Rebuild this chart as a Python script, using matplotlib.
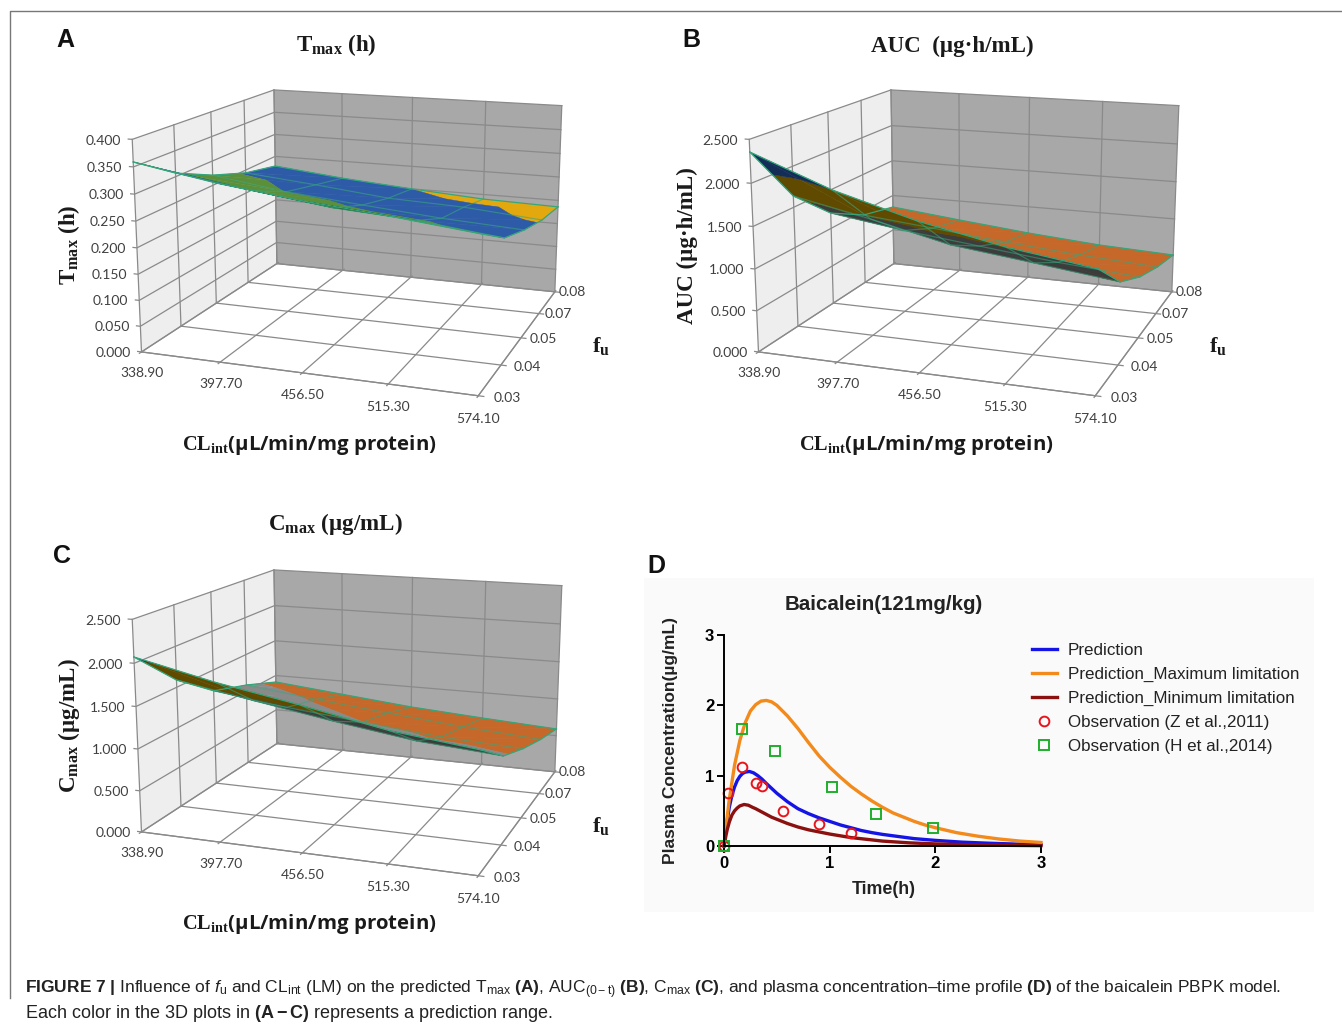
import numpy as np
import matplotlib
matplotlib.use("Agg")
import matplotlib.pyplot as plt
from matplotlib.patches import Rectangle
from matplotlib.lines import Line2D
from mpl_toolkits.mplot3d import proj3d
from mpl_toolkits.mplot3d.art3d import Poly3DCollection

W, H = 1342, 1025

plt.rcParams['font.family'] = ['Liberation Sans', 'DejaVu Sans']
plt.rcParams['mathtext.fontset'] = 'custom'
plt.rcParams['mathtext.rm'] = 'Liberation Serif:bold'
plt.rcParams['mathtext.sf'] = 'Liberation Sans'
plt.rcParams['mathtext.bf'] = 'Liberation Sans:bold'
plt.rcParams['mathtext.it'] = 'Liberation Sans:italic'
plt.rcParams['mathtext.cal'] = 'Open Sans:bold'

cl_labels = ['338.90', '397.70', '456.50', '515.30', '574.10']
fu_labels = ['0.03', '0.04', '0.05', '0.07', '0.08']

tmax_ticks = ['0.000', '0.050', '0.100', '0.150', '0.200', '0.250', '0.300', '0.350', '0.400']
conc_ticks = ['0.000', '0.500', '1.000', '1.500', '2.000', '2.500']

# rows are fu 0.03 -> 0.08, columns are CLint 338.9 -> 574.1
tmax_grid = [[.359, .333, .314, .300, .283],
             [.307, .285, .265, .255, .237],
             [.271, .249, .235, .222, .213],
             [.244, .230, .214, .208, .195],
             [.228, .212, .200, .190, .186]]
auc_grid = [[2.357, 2.000, 1.735, 1.538, 1.396],
            [1.638, 1.440, 1.216, 1.098, .976],
            [1.200, 1.060, .950, .840, .758],
            [.946, .850, .753, .673, .612],
            [.833, .729, .631, .553, .508]]
cmax_grid = [[2.072, 1.860, 1.690, 1.500, 1.385],
             [1.589, 1.420, 1.260, 1.120, 1.045],
             [1.230, 1.100, 1.002, .907, .860],
             [1.084, .970, .874, .780, .710],
             [.906, .810, .716, .650, .591]]

# excel surface band colours: seen from above, seen from below
band_top = ['#5b9bd5', '#c5682a', '#8a8a8a', '#e3a80d', '#2d5ba8', '#5b8f3a', '#255e91', '#9e480e']
band_under = ['#2c4d6a', '#7a3a10', '#3c3c3c', '#5f4a00', '#132d57', '#1f4f22', '#123048', '#4f2407']

t_pred = [0, .01, .02, .03, .05, .075, .1, .125, .15, .175, .2, .24, .28, .32, .36, .4, .45, .5, .55, .6, .7, .8, .9,
          1, 1.1, 1.2, 1.3, 1.4, 1.5, 1.6, 1.8, 2, 2.25, 2.5, 2.75, 3]
pred = [0, .12, .25, .36, .55, .72, .84, .93, .99, 1.03, 1.05, 1.06, 1.04, 1.0, .95, .89, .82, .75, .69, .63, .53, .46, .40,
        .35, .30, .26, .22, .19, .165, .145, .105, .08, .055, .04, .028, .02]
t_max = [0, .02, .05, .1, .15, .2, .25, .3, .35, .4, .45, .5, .6, .7, .8, .9, 1, 1.1, 1.2, 1.3, 1.4, 1.5, 1.6, 1.7, 1.8,
         1.9, 2, 2.2, 2.4, 2.6, 2.8, 3]
pred_max = [0, .285, .66, 1.15, 1.5, 1.75, 1.92, 2.01, 2.06, 2.07, 2.05, 2.0, 1.85, 1.67, 1.47, 1.28, 1.12, .98, .85, .74,
            .64, .55, .47, .41, .35, .30, .26, .19, .14, .10, .07, .05]
t_min = [0, .01, .02, .03, .05, .075, .1, .125, .15, .19, .23, .27, .3, .35, .4, .45, .5, .6, .7, .8, .9, 1, 1.1, 1.2,
         1.35, 1.5, 1.75, 2, 2.5, 3]
pred_min = [0, .08, .16, .23, .34, .44, .5, .54, .57, .59, .58, .55, .53, .49, .45, .41, .38, .32, .27, .23, .2, .17, .145, .12,
            .095, .07, .045, .03, .012, .005]
obs_z_t = [0, .04, .17, .3, .36, .56, .9, 1.2]
obs_z = [0, .75, 1.13, .9, .86, .5, .31, .19]
obs_h_t = [0, .17, .48, 1.02, 1.44, 1.98]
obs_h = [0, 1.67, 1.35, .84, .45, .26]

fig = plt.figure(figsize=(W / 100, H / 100), dpi=100)


def fx(px):
    return px / W


def fy(py):
    return 1 - py / H


def setup_view(ax, dx, dy):
    ax.view_init(elev=14.2057, azim=-70.2194)
    ax.set_proj_type('persp', focal_length=0.4981)
    ax.set_box_aspect((1, 0.9804, 0.6215))
    size = 489.8729
    cx = 355.8767 + dx
    cy = 229.0373 + dy
    ax.set_position([fx(cx - size / 2), fy(cy + size / 2), size / W, size / H])
    ax.apply_aspect()


def clip_z(poly, level, keep_above):
    out = []
    for k in range(len(poly)):
        a, b = poly[k], poly[(k + 1) % len(poly)]
        in_a = a[2] >= level if keep_above else a[2] <= level
        in_b = b[2] >= level if keep_above else b[2] <= level
        if in_a:
            out.append(a)
        if in_a != in_b:
            s = (level - a[2]) / (b[2] - a[2])
            out.append(tuple(a[n] + s * (b[n] - a[n]) for n in range(3)))
    return out


def draw_surface(ax, grid, step):
    grid = np.array(grid)
    M = ax.get_proj()
    polys, colors = [], []
    for j in range(4):
        for i in range(4):
            c = [(i, j, grid[j, i]), (i + 1, j, grid[j, i + 1]), (i + 1, j + 1, grid[j + 1, i + 1]), (i, j + 1, grid[j + 1, i])]
            q = np.array(c, float)
            xs, ys, _ = proj3d.proj_transform(q[:, 0], q[:, 1], q[:, 2], M)
            # whole cell gets one side, the triangles are too close to edge on
            area = (xs[2] - xs[0]) * (ys[3] - ys[1]) - (xs[3] - xs[1]) * (ys[2] - ys[0])
            table = band_top if area > 0 else band_under
            for tri in ([c[0], c[1], c[2]], [c[0], c[2], c[3]]):
                for b in range(len(band_top)):
                    poly = clip_z(tri, b * step, True)
                    if len(poly) > 2:
                        poly = clip_z(poly, (b + 1) * step, False)
                    if len(poly) > 2:
                        polys.append(poly)
                        colors.append(table[b])
    ax.add_collection3d(Poly3DCollection(polys, facecolors=colors, edgecolors=colors, linewidths=.3, zorder=3))
    X, Y = np.meshgrid(range(5), range(5))
    for j in range(5):
        edge = j in (0, 4)
        ax.plot(X[j], Y[j], grid[j], color='#35a67c', lw=.9, alpha=1 if edge else .55, zorder=4, clip_on=False)
    for i in range(5):
        edge = i in (0, 4)
        ax.plot(X[:, i], Y[:, i], grid[:, i], color='#35a67c', lw=.9, alpha=1 if edge else .55, zorder=4, clip_on=False)


def label_3d(ax, x, y, z, s, **kw):
    xs, ys, _ = proj3d.proj_transform(np.array([x]), np.array([y]), np.array([z]), ax.get_proj())
    ax.text2D(xs[0], ys[0], s, transform=ax.transData, **kw)


def panel_3d(dx, dy, grid, step, ticks):
    ax = fig.add_axes([0, 0, 1, 1], projection='3d')
    ax.computed_zorder = False
    ax.set_axis_off()
    ax.patch.set_visible(False)
    ztop = step * (len(ticks) - 1)
    ax.set_xlim(0, 4, view_margin=0)
    ax.set_ylim(0, 4, view_margin=0)
    ax.set_zlim(0, ztop, view_margin=0)
    ax.set_xticks([])
    ax.set_yticks([])
    ax.set_zticks([])
    setup_view(ax, dx, dy)

    walls = [[(0, 0, 0), (0, 4, 0), (0, 4, ztop), (0, 0, ztop)], [(0, 4, 0), (4, 4, 0), (4, 4, ztop), (0, 4, ztop)]]
    ax.add_collection3d(Poly3DCollection(walls, facecolors=['#eeeeee', '#a8a8a8'], edgecolors='none', zorder=1))

    gkw = dict(color='#8a8a8a', lw=.9, zorder=2, clip_on=False)
    for k in range(5):
        ax.plot([k, k], [-.05, 4.06], [0, 0], **gkw)
        ax.plot([0, 4.06], [k, k], [0, 0], **gkw)
        ax.plot([k, k], [4, 4], [0, ztop], **gkw)
        ax.plot([0, 0], [k, k], [0, ztop], **gkw)
    for n in range(len(ticks)):
        ax.plot([-.05, 0, 0, 4], [0, 0, 4, 4], [n * step] * 4, **gkw)
    ax.plot([4, 4], [0, 4], [0, 0], **gkw)
    ax.plot([0, 4], [0, 0], [0, 0], **gkw)

    tkw = dict(family='Lato', fontsize=10, color='#404040', zorder=6)
    for n, lab in enumerate(ticks):
        label_3d(ax, -.14, 0, n * step - .01 * ztop, lab, ha='right', va='center', **tkw)
    for k, lab in enumerate(cl_labels):
        label_3d(ax, k, 0, -.105 * ztop, lab, ha='center', va='center', **tkw)
    for k, lab in enumerate(fu_labels):
        label_3d(ax, 4.17 - .03 * k, k, 0, lab, ha='left', va='center', **tkw)

    draw_surface(ax, grid, step)
    return ax


panel_3d(0, 0, tmax_grid, .05, tmax_ticks)
panel_3d(617, 0, auc_grid, .5, conc_ticks)
panel_3d(0, 480, cmax_grid, .5, conc_ticks)

serif = dict(family='Liberation Serif', fontweight='bold', color='#1a1a1a')
fig.text(fx(336), fy(45), r'T$_{\mathrm{max}}$ (h)', ha='center', va='center', fontsize=16.6, **serif)
fig.text(fx(952), fy(46), u'AUC  (\u00b5g\u00b7h/mL)', ha='center', va='center', fontsize=16.6, **serif)
fig.text(fx(335), fy(524), u'C$_{\\mathrm{max}}$ (\u00b5g/mL)', ha='center', va='center', fontsize=16.6, **serif)
fig.text(fx(69), fy(245), r'T$_{\mathrm{max}}$ (h)', rotation=90, ha='center', va='center', fontsize=16.6, **serif)
fig.text(fx(687), fy(246), u'AUC (\u00b5g\u00b7h/mL)', rotation=90, ha='center', va='center', fontsize=16.6, **serif)
fig.text(fx(69), fy(726), u'C$_{\\mathrm{max}}$ (\u00b5g/mL)', rotation=90, ha='center', va='center', fontsize=16.6, **serif)
for cx, cy in [(309, 445), (926, 445), (309, 924)]:
    fig.text(fx(cx), fy(cy), u'CL$_{\\mathrm{int}}$$\\mathcal{(\u00b5L/min/mg\\ protein)}$', ha='center', va='center', fontsize=14.7, **serif)
for cx, cy in [(601, 347), (1218, 347), (601, 827)]:
    fig.text(fx(cx), fy(cy), r'f$_{\mathrm{u}}$', ha='center', va='center', fontsize=16, **serif)

for lab, cx, cy in [('A', 65, 40), ('B', 691, 40), ('C', 62, 556), ('D', 656, 566)]:
    fig.text(fx(cx), fy(cy), lab, ha='center', va='center', fontsize=18, fontweight='bold', color='#111111')

# panel D
fig.add_artist(Rectangle((fx(644), fy(912)), 670 / W, 334 / H, transform=fig.transFigure, facecolor='#fafafa', edgecolor='none', zorder=-1))
axd = fig.add_axes([fx(724), fy(846), 317 / W, 211 / H])
axd.patch.set_visible(False)
lkw = dict(lw=2.4, clip_on=False, solid_joinstyle='round')
axd.plot(t_pred, pred, color='#1414e6', label='Prediction', **lkw)
axd.plot(t_max, pred_max, color='#f28a1c', label='Prediction_Maximum limitation', **lkw)
axd.plot(t_min, pred_min, color='#8b1010', label='Prediction_Minimum limitation', **lkw)
axd.plot(obs_z_t, obs_z, ls='none', marker='o', ms=7, mfc='none', mec='#e8141c', mew=1.4, clip_on=False, label='Observation (Z et al.,2011)')
axd.plot(obs_h_t, obs_h, ls='none', marker='s', ms=6.8, mfc='none', mec='#1fae2c', mew=1.4, clip_on=False, label='Observation (H et al.,2014)')
axd.set_xlim(0, 3)
axd.set_ylim(0, 3)
axd.set_xticks([0, 1, 2, 3])
axd.set_yticks([0, 1, 2, 3])
axd.spines['top'].set_visible(False)
axd.spines['right'].set_visible(False)
axd.spines['left'].set_linewidth(1.4)
axd.spines['bottom'].set_linewidth(1.4)
axd.tick_params(width=1.4, length=5, labelsize=12, pad=2)
for t in axd.get_xticklabels() + axd.get_yticklabels():
    t.set_fontweight('bold')
fig.text(fx(884), fy(605), 'Baicalein(121mg/kg)', ha='center', va='center', fontsize=14.8, fontweight='bold', color='#222222')
fig.text(fx(884), fy(889), 'Time(h)', ha='center', va='center', fontsize=12.8, fontweight='bold', color='#222222')
fig.text(fx(670), fy(741), u'Plasma Concentration(\u00b5g/mL)', rotation=90, ha='center', va='center', fontsize=12.5, fontweight='bold', color='#222222')
axd.legend(loc='upper left', bbox_to_anchor=(fx(1032), fy(643)), bbox_transform=fig.transFigure, frameon=False,
           fontsize=12.25, handlelength=1.45, handletextpad=.65, labelspacing=.52, borderaxespad=0, borderpad=0, labelcolor='#222222')

# page rules and caption
fig.add_artist(Line2D([fx(10), fx(10), 1], [fy(998), fy(11), fy(11)], color='#777777', lw=1))
cap1 = (r'$\mathbf{FIGURE\ 7\ |}$ Influence of $\mathit{f}_{\mathsf{u}}$ and CL$_{\mathsf{int}}$ (LM) on the predicted '
        r'T$_{\mathsf{max}}$ $\mathbf{(A)}$, AUC$_{\mathsf{(0-t)}}$ $\mathbf{(B)}$, C$_{\mathsf{max}}$ $\mathbf{(C)}$, '
        u'and plasma concentration\u2013time profile ' r'$\mathbf{(D)}$ of the baicalein PBPK model.')
cap2 = r'Each color in the 3D plots in $\mathbf{(A-C)}$ represents a prediction range.'
fig.text(fx(25), fy(990), cap1, ha='left', va='center', fontsize=12.55, color='#222222')
fig.text(fx(25), fy(1014), cap2, ha='left', va='center', fontsize=13, color='#222222')

fig.savefig('out.png', dpi=100)
